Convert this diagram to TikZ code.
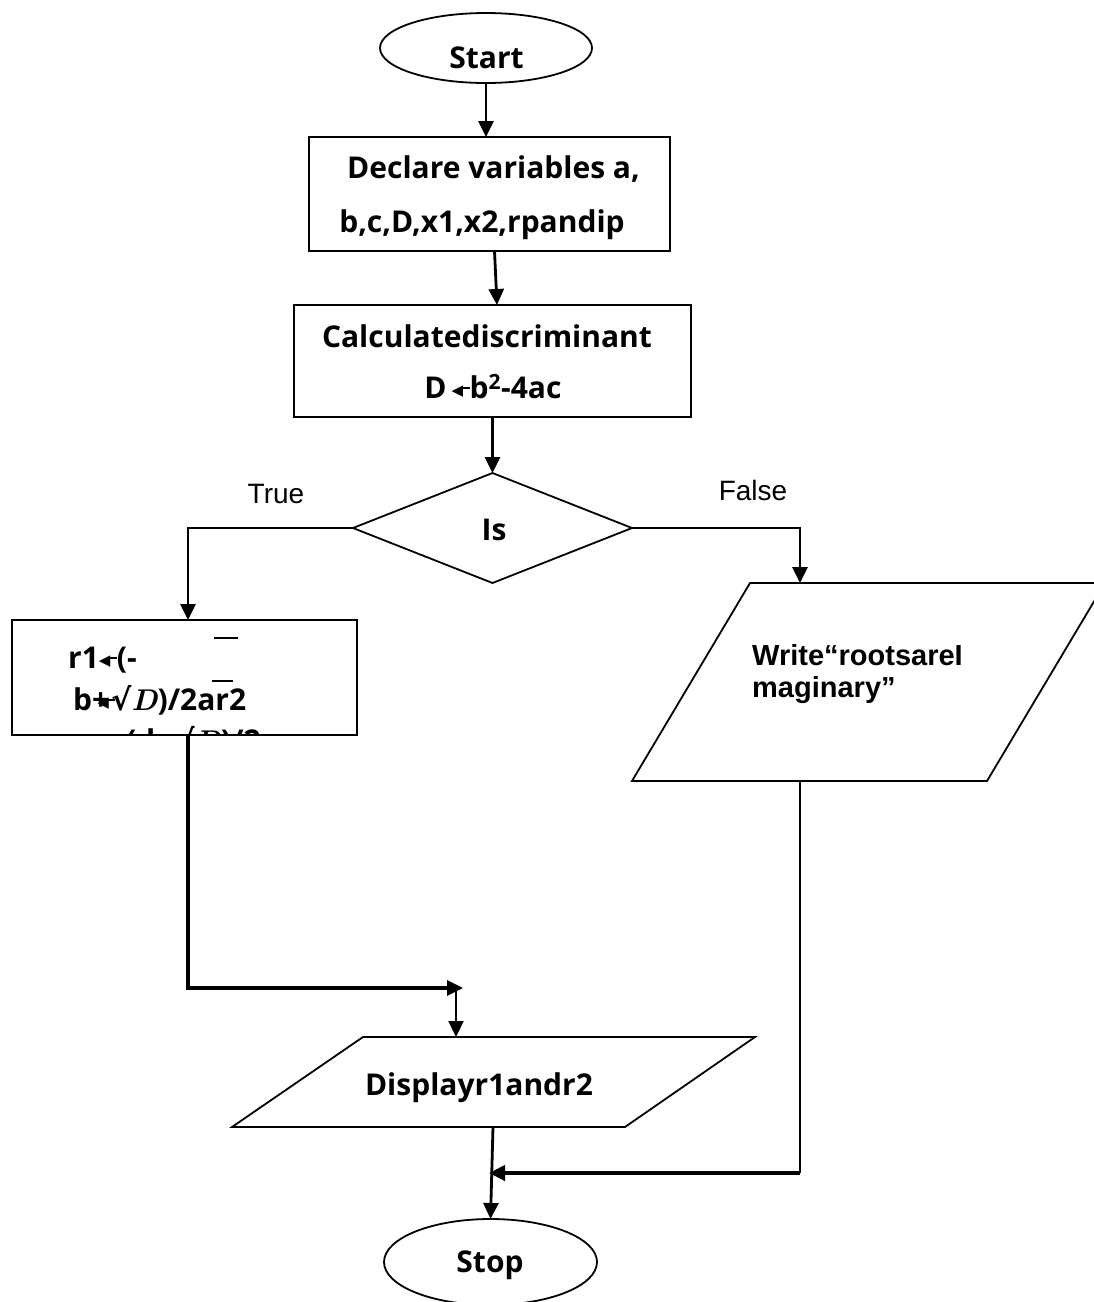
\documentclass[tikz,border=0pt]{standalone}
\usepackage{fontspec}
\newfontfamily\osans{Open Sans}
\newfontfamily\arialf{Liberation Sans}
\newfontfamily\djv{DejaVu Sans}
\usetikzlibrary{shapes.geometric,arrows.meta}
\newcommand{\larw}{\mbox{{\djv\fontsize{15}{15}\selectfont\raisebox{3pt}{◀}}\kern-2.5pt\rule[9.5pt]{9pt}{2.2pt}}}
\newcommand{\sqrtsym}{{\djv\bfseries √}}
\begin{document}
\begin{tikzpicture}[x=1pt,y=-1pt,
  shp/.style={draw=black, line width=1.8pt, inner sep=0pt, outer sep=0pt},
  oval/.style={shp, ellipse},
  box/.style={shp, rectangle},
  cond/.style={shp, diamond},
  slab/.style={rectangle, draw=none, inner sep=0pt, outer sep=0pt},
  btxt/.style={inner sep=0pt, font=\osans\bfseries\fontsize{30}{36}\selectfont},
  atxt/.style={inner sep=0pt, font=\arialf\bfseries\fontsize{29}{32}\selectfont},
  ltxt/.style={inner sep=0pt, font=\arialf\fontsize{28}{32}\selectfont},
  arr/.style={line width=2.8pt, -{Triangle[length=16pt,width=15pt]}},
  bar/.style={line width=2pt},
]
\useasboundingbox (0,0) rectangle (1094,1302);

% shapes
\node[oval, minimum width=212pt, minimum height=70pt] (start) at (486,48) {};
\node[box, minimum width=361pt, minimum height=114pt] (declare) at (489.5,194) {};
\node[box, minimum width=397pt, minimum height=112pt] (calc) at (492.5,361) {};
\node[cond, minimum width=279pt, minimum height=110pt] (dec) at (492.5,528) {};
\node[box, minimum width=345pt, minimum height=115pt] (rbox) at (184.5,677.5) {};
\node[slab, minimum width=473pt, minimum height=198pt] (write) at (868.5,682) {};
\draw[shp] ([xshift=118pt]write.north west) -- (write.north east) -- ([xshift=-118pt]write.south east) -- (write.south west) -- cycle;
\node[slab, minimum width=523pt, minimum height=90pt] (display) at (493.5,1082) {};
\draw[shp] ([xshift=131pt]display.north west) -- (display.north east) -- ([xshift=-130pt]display.south east) -- (display.south west) -- cycle;
\node[oval, minimum width=213pt, minimum height=86pt] (stop) at (490.5,1262) {};

% texts
\node[btxt, anchor=base] (tstart) at (486.5,68.7) {Start};
\node[btxt, anchor=base] (tdecl1) at (493.5,178.7) {Declare variables a,};
\node[btxt, anchor=base] (tdecl2) at (482,232.7) {b,c,D,x1,x2,rpandip};
\node[btxt, anchor=base] (tcalc1) at (487,347.7) {Calculatediscriminant};
\node[btxt, anchor=base] (tcalc2) at (493,398.7) {D\,\larw b\textsuperscript{2}-4ac};
\node[btxt, anchor=base] (tis) at (494,540.7) {Is};
\node[ltxt, anchor=base] (ttrue) at (276,503) {True};
\node[ltxt, anchor=base] (tfalse) at (753,500) {False};
\node[btxt, anchor=base west] (tr1) at (68,668.7) {r1\larw(-};
\node[btxt, anchor=base west] (tr2) at (73,710.7) {b+\kern-12pt\larw\kern-4pt\sqrtsym{\rmfamily\itshape D})/2ar2};
\draw[bar] (214,638) -- (238,638);
\draw[bar] (212,681) -- (233,681);
\begin{scope}
  \clip (rbox.north west) rectangle (rbox.south east);
  \node[btxt, anchor=base west] (tr3) at (108,751) {\larw(-b-\sqrtsym{\rmfamily\itshape D})/2a};
\end{scope}
\node[atxt, anchor=base west] (tw1) at (752,665.4) {Write“rootsareI};
\node[atxt, anchor=base west] (tw2) at (752,697.4) {maginary”};
\node[btxt, anchor=base] (tdisp) at (479,1095.7) {Displayr1andr2};
\node[btxt, anchor=base] (tstop) at (490,1272.7) {Stop};

% connectors
\draw[arr] (start.south) -- (start.south |- declare.north);
\draw[arr] ([xshift=5pt]declare.south) -- ([xshift=4.5pt]calc.north);
\draw[arr] (calc.south) -- (dec.north);
\draw[arr] (dec.west) -| ([xshift=3.5pt]rbox.north);
\draw[arr] (dec.east) -| ([xshift=-68.5pt]write.north);
\coordinate (j1) at (463,988);
\draw[arr, line width=3.2pt] ([xshift=3.5pt]rbox.south) |- (j1);
\coordinate (dtop) at ([xshift=-37.5pt]display.north);
\draw[arr, line width=2.2pt] (dtop |- j1) -- (dtop);
\draw[arr] ([xshift=-0.5pt]display.south) -- (stop.north);
\coordinate (wbot) at ([xshift=-68.5pt]write.south);
\coordinate (c2) at (800,1173);
\coordinate (j2) at (489,1173);
\draw[line width=1.8pt] (wbot) -- (c2);
\draw[arr, line width=4pt] (c2) -- (j2);
\end{tikzpicture}
\end{document}
